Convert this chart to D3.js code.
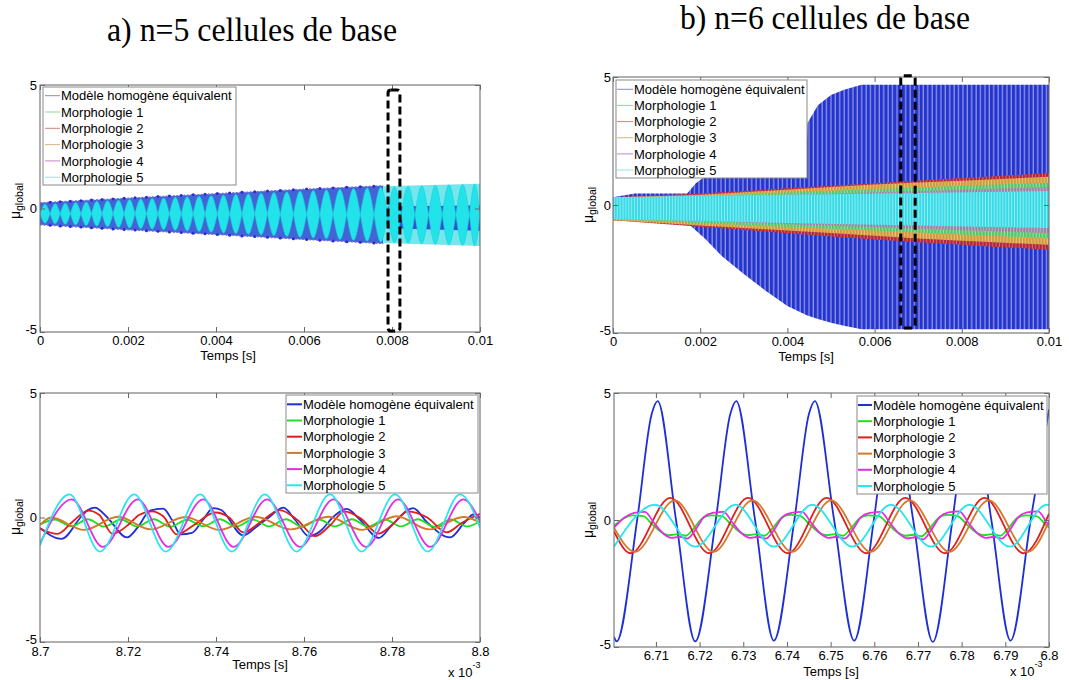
<!DOCTYPE html>
<html><head><meta charset="utf-8">
<script src="https://cdn.jsdelivr.net/npm/d3@7"></script>
<style>
body{margin:0;background:#fff}
svg{display:block}
text{font-family:"Liberation Sans",Arial,sans-serif;fill:#000}
</style>
</head><body>
<svg id="c" width="1069" height="680"></svg>
<script>
// ---------------- DATA ----------------
const titles = ['a) n=5 cellules de base', 'b) n=6 cellules de base'];
const seriesNames = ['Modèle homogène équivalent','Morphologie 1','Morphologie 2','Morphologie 3','Morphologie 4','Morphologie 5'];
const seriesColors = ['#1f2fd6','#22dd22','#dd1f1f','#d4782a','#e22ee2','#28e6ee'];
const legendColorsTop = ['#7d7dc8','#80d890','#c87878','#d0b078','#c078c0','#80e4ec'];
const yTicks = [-5, 0, 5];
const yTickLabels = ['-5','0','5'];
const xTicksTop = [0, 0.002, 0.004, 0.006, 0.008, 0.01];
const xTickLabelsTop = ['0','0.002','0.004','0.006','0.008','0.01'];
const xTicksBotA = [8.70, 8.72, 8.74, 8.76, 8.78, 8.80];
const xTickLabelsBotA = ['8.7','8.72','8.74','8.76','8.78','8.8'];
const xTicksBotB = [6.71, 6.72, 6.73, 6.74, 6.75, 6.76, 6.77, 6.78, 6.79, 6.80];
const xTickLabelsBotB = ['6.71','6.72','6.73','6.74','6.75','6.76','6.77','6.78','6.79','6.8'];
const xLabel = 'Temps [s]';
const exponentLabel = ['x 10', '-3'];

// top-left (n=5) envelopes [t, low, high]
const blueEnvA = [[0,-0.66,0.23],[0.002,-0.86,0.42],[0.004,-1.05,0.6],[0.006,-1.25,0.78],[0.0078,-1.42,0.92]];
const cyanEnvA = [[0,-0.58,0.16],[0.002,-0.78,0.36],[0.004,-0.97,0.53],[0.006,-1.17,0.71],[0.008,-1.38,0.88],[0.01,-1.52,1.0]];
const cyanBandA = [[0.0078,-1.4,0.9],[0.01,-1.52,1.0]];
const blueTailA = [[0.0079,-0.8,0.08],[0.01,-0.9,0.12]];
const beatNodesA = [0,0.00023,0.00046,0.00069,0.00093,0.00117,0.00141,0.00166,0.00191,0.00216,0.00242,0.00268,0.00294,0.00321,0.00348,0.00375,0.00403,0.00431,0.00459,0.00488,0.00517,0.00546,0.00576,0.00606,0.00636,0.00666,0.00697,0.00728,0.00759,0.0079,0.00821,0.00852,0.00883,0.00914,0.00945,0.00976,0.01];
const zoomBoxA = [0.00791, 0.00818, -4.96, 4.8];

// top-right (n=6) envelopes [t, low, high]
const blueEnvB = [[0,-0.6,0.3],[0.0005,-0.62,0.45],[0.0012,-0.62,0.45],[0.0017,-0.68,0.45],[0.0019,-1.0,0.85],[0.0021,-1.3,1.1],[0.0025,-2.0,1.15],[0.003,-2.7,1.15],[0.0035,-3.35,1.2],[0.004,-3.95,1.2],[0.00443,-4.3,1.2],[0.00446,-4.32,3.2],[0.0047,-4.45,3.9],[0.005,-4.6,4.3],[0.0053,-4.72,4.5],[0.0057,-4.85,4.7],[0.01,-4.85,4.7]];
const redEnvB = [[0,-0.6,0.3],[0.002,-0.85,0.45],[0.004,-1.1,0.65],[0.006,-1.35,0.85],[0.008,-1.55,1.05],[0.01,-1.75,1.25]];
const orangeEnvB = [[0,-0.6,0.3],[0.002,-0.8,0.4],[0.004,-1.0,0.6],[0.006,-1.2,0.8],[0.008,-1.4,0.95],[0.01,-1.55,1.1]];
const greenEnvB = [[0,-0.55,0.25],[0.002,-0.7,0.35],[0.004,-0.85,0.5],[0.006,-1.0,0.62],[0.008,-1.15,0.75],[0.01,-1.3,0.88]];
const magentaEnvB = [[0,-0.5,0.2],[0.004,-0.75,0.4],[0.01,-1.1,0.7]];
const cyanEnvB = [[0,-0.55,0.3],[0.004,-0.7,0.4],[0.01,-0.9,0.55]];
const zoomBoxB = [0.0066, 0.00693, -4.8, 5.05];

// bottom-left (n=5, zoom 8.70-8.80 x1e-3 s) [t, value]
const blueA = [[8.7000,-0.42],[8.7049,-0.86],[8.7091,-0.02],[8.7105,0.25],[8.7125,0.4],[8.7152,0.02],[8.7198,-0.8],[8.7222,-0.4],[8.7250,0.28],[8.7280,0.36],[8.7300,-0.1],[8.7320,-0.68],[8.7345,-0.62],[8.7370,-0.1],[8.7394,0.38],[8.7412,0.3],[8.7462,-0.72],[8.7490,-0.4],[8.7520,0.0],[8.7553,0.4],[8.7580,-0.1],[8.7611,-0.75],[8.7640,-0.5],[8.7665,0.0],[8.7697,0.35],[8.7725,-0.05],[8.7770,-0.82],[8.7800,-0.3],[8.7848,0.38],[8.7880,-0.2],[8.7932,-0.8],[8.7965,-0.2],[8.7985,0.12],[8.8000,0.0]];
const greenA = [[8.7000,-0.28],[8.7034,-0.08],[8.7071,-0.36],[8.7109,-0.07],[8.7146,-0.37],[8.7184,-0.08],[8.7221,-0.36],[8.7259,-0.07],[8.7296,-0.37],[8.7334,-0.09],[8.7371,-0.35],[8.7409,-0.07],[8.7446,-0.37],[8.7484,-0.08],[8.7521,-0.36],[8.7559,-0.07],[8.7596,-0.37],[8.7634,-0.08],[8.7671,-0.36],[8.7709,-0.07],[8.7746,-0.37],[8.7784,-0.08],[8.7821,-0.36],[8.7859,-0.07],[8.7896,-0.37],[8.7934,-0.08],[8.7971,-0.36],[8.8000,-0.15]];
const redA = [[8.7000,-0.45],[8.7040,-0.66],[8.7075,-0.15],[8.7110,0.28],[8.7135,0.1],[8.7165,-0.66],[8.7200,-0.3],[8.7225,0.1],[8.7254,0.25],[8.7280,0.05],[8.7311,-0.68],[8.7350,-0.3],[8.7398,0.2],[8.7430,0.0],[8.7462,-0.6],[8.7500,-0.2],[8.7545,0.3],[8.7585,-0.1],[8.7625,-0.75],[8.7660,-0.3],[8.7692,0.25],[8.7730,-0.05],[8.7769,-0.65],[8.7800,-0.3],[8.7836,0.25],[8.7880,0.0],[8.7924,-0.6],[8.7960,-0.2],[8.8000,0.15]];
const orangeA = [[8.7000,-0.3],[8.7025,0.0],[8.7100,-0.5],[8.7177,0.03],[8.7252,-0.48],[8.7330,0.02],[8.7408,-0.5],[8.7490,0.03],[8.7570,-0.48],[8.7655,0.03],[8.7732,-0.5],[8.7810,0.05],[8.7885,-0.48],[8.7962,0.02],[8.8000,-0.2]];
const magentaA = [[8.7000,-1.05],[8.7072,0.73],[8.7143,-1.18],[8.7222,0.73],[8.7292,-1.18],[8.7371,0.73],[8.7440,-1.18],[8.7516,0.73],[8.7591,-1.18],[8.7667,0.73],[8.7741,-1.18],[8.7814,0.73],[8.7887,-1.18],[8.7962,0.73],[8.8000,-0.15]];
const cyanA = [[8.7000,-1.12],[8.7067,0.93],[8.7136,-1.37],[8.7214,0.93],[8.7286,-1.37],[8.7364,0.93],[8.7436,-1.37],[8.7511,0.93],[8.7583,-1.37],[8.7659,0.93],[8.7731,-1.37],[8.7807,0.93],[8.7881,-1.37],[8.7955,0.93],[8.8000,-0.4]];

// bottom-right (n=6, zoom 6.70-6.80 x1e-3 s) [t, value]
const blueB = [[6.7004,-4.6],[6.7010,-4.78],[6.7057,0.0],[6.7090,4.15],[6.7104,4.68],[6.7146,0.0],[6.7190,-4.78],[6.7237,0.0],[6.7270,4.15],[6.7284,4.68],[6.7327,0.0],[6.7370,-4.75],[6.7417,0.0],[6.7450,4.15],[6.7464,4.68],[6.7508,0.0],[6.7554,-4.75],[6.7599,0.0],[6.7632,4.15],[6.7644,4.68],[6.7689,0.0],[6.7734,-4.8],[6.7779,0.0],[6.7812,4.15],[6.7824,4.68],[6.7868,0.0],[6.7912,-4.75],[6.7958,0.0],[6.8000,4.35]];
const greenB = [[6.7004,-0.22],[6.7026,0.06],[6.7046,0.18],[6.7071,0.15],[6.7091,-0.16],[6.7114,-0.5],[6.7131,-0.6],[6.7150,-0.56],[6.7168,-0.62],[6.7188,-0.3],[6.7206,0.06],[6.7226,0.18],[6.7251,0.15],[6.7271,-0.16],[6.7294,-0.5],[6.7311,-0.6],[6.7330,-0.56],[6.7348,-0.62],[6.7368,-0.3],[6.7386,0.06],[6.7406,0.2],[6.7431,0.15],[6.7451,-0.16],[6.7474,-0.5],[6.7491,-0.6],[6.7510,-0.56],[6.7528,-0.62],[6.7548,-0.3],[6.7566,0.06],[6.7586,0.18],[6.7611,0.15],[6.7631,-0.16],[6.7654,-0.5],[6.7671,-0.62],[6.7690,-0.58],[6.7708,-0.64],[6.7728,-0.3],[6.7746,0.06],[6.7766,0.2],[6.7791,0.15],[6.7811,-0.16],[6.7834,-0.5],[6.7851,-0.6],[6.7870,-0.56],[6.7888,-0.62],[6.7908,-0.3],[6.7926,0.06],[6.7946,0.18],[6.7971,0.15],[6.7991,-0.16],[6.8000,-0.3]];
const redB = [[6.7004,-0.45],[6.7042,-1.31],[6.7133,0.87],[6.7222,-1.31],[6.7311,0.87],[6.7402,-1.31],[6.7491,0.87],[6.7582,-1.31],[6.7671,0.87],[6.7762,-1.31],[6.7852,0.87],[6.7942,-1.31],[6.8000,0.25]];
const orangeB = [[6.7004,-0.3],[6.7052,-1.25],[6.7143,0.77],[6.7232,-1.25],[6.7321,0.77],[6.7412,-1.25],[6.7501,0.77],[6.7592,-1.25],[6.7681,0.77],[6.7772,-1.25],[6.7862,0.77],[6.7952,-1.25],[6.8000,-0.05]];
const magentaB = [[6.7004,-0.3],[6.7030,0.12],[6.7050,0.28],[6.7075,0.32],[6.7095,-0.1],[6.7118,-0.55],[6.7135,-0.7],[6.7155,-0.66],[6.7172,-0.73],[6.7192,-0.35],[6.7210,0.12],[6.7230,0.28],[6.7255,0.32],[6.7275,-0.1],[6.7298,-0.55],[6.7315,-0.7],[6.7334,-0.66],[6.7352,-0.73],[6.7372,-0.35],[6.7390,0.12],[6.7410,0.28],[6.7435,0.32],[6.7455,-0.1],[6.7478,-0.55],[6.7495,-0.7],[6.7514,-0.66],[6.7532,-0.73],[6.7552,-0.35],[6.7570,0.12],[6.7590,0.28],[6.7615,0.32],[6.7635,-0.1],[6.7658,-0.55],[6.7675,-0.72],[6.7694,-0.68],[6.7712,-0.76],[6.7732,-0.35],[6.7750,0.12],[6.7770,0.3],[6.7795,0.34],[6.7815,-0.1],[6.7838,-0.55],[6.7855,-0.7],[6.7874,-0.66],[6.7892,-0.73],[6.7912,-0.35],[6.7930,0.12],[6.7950,0.3],[6.7975,0.34],[6.7995,-0.1],[6.8000,-0.2]];
const cyanB = [[6.7004,-1.05],[6.7098,0.6],[6.7190,-1.05],[6.7282,0.6],[6.7370,-1.05],[6.7458,0.6],[6.7550,-1.05],[6.7638,0.6],[6.7730,-1.05],[6.7818,0.6],[6.7910,-1.05],[6.7995,0.6],[6.8000,0.59]];

// ---------------- DRAWING ----------------
const svg = d3.select('#c');
const defs = svg.append('defs');
let clipN = 0;

function makePanel(box, xDomain) {
  const x = d3.scaleLinear().domain(xDomain).range([box.l, box.r]);
  const y = d3.scaleLinear().domain([-5, 5]).range([box.b, box.t]);
  const id = 'clip' + (clipN++);
  defs.append('clipPath').attr('id', id).append('rect')
    .attr('x', box.l).attr('y', box.t).attr('width', box.r - box.l).attr('height', box.b - box.t);
  const g = svg.append('g');
  const plot = g.append('g').attr('clip-path', `url(#${id})`);
  return {x, y, g, plot, box};
}

function drawAxes(p, xt, xl, xPad, yPad) {
  const fx = d => xl[xt.indexOf(d)];
  const fy = d => yTickLabels[yTicks.indexOf(d)];
  const style = sel => {
    sel.select('.domain').remove();
    sel.selectAll('.tick line').attr('stroke', '#666');
    sel.selectAll('.tick text').attr('font-size', 13).attr('font-family', '"Liberation Sans",Arial,sans-serif');
  };
  p.g.append('g').attr('transform', `translate(0,${p.box.b})`)
    .call(d3.axisBottom(p.x).tickValues(xt).tickFormat(fx).tickSizeInner(-5).tickSizeOuter(0).tickPadding(xPad)).call(style);
  p.g.append('g').attr('transform', `translate(0,${p.box.t})`)
    .call(d3.axisTop(p.x).tickValues(xt).tickFormat('').tickSizeInner(-5).tickSizeOuter(0)).call(style);
  const ya = p.g.append('g').attr('transform', `translate(${p.box.l},0)`)
    .call(d3.axisLeft(p.y).tickValues(yTicks).tickFormat(fy).tickSizeInner(-5).tickSizeOuter(0).tickPadding(yPad)).call(style);
  ya.selectAll('.tick text').filter(d => d === -5).attr('dy', '0.1em');
  p.g.append('g').attr('transform', `translate(${p.box.r},0)`)
    .call(d3.axisRight(p.y).tickValues(yTicks).tickFormat('').tickSizeInner(-5).tickSizeOuter(0)).call(style);
  p.g.append('rect').attr('x', p.box.l).attr('y', p.box.t)
    .attr('width', p.box.r - p.box.l).attr('height', p.box.b - p.box.t)
    .attr('fill', 'none').attr('stroke', '#6e6e6e').attr('stroke-width', 1.1);
}

function yLabel(x, yc) {
  const t = svg.append('text').attr('transform', `translate(${x},${yc}) rotate(-90)`)
    .attr('text-anchor', 'middle').attr('font-size', 14);
  t.append('tspan').text('μ');
  t.append('tspan').attr('font-size', 10.5).attr('dy', 3).text('global');
}

function legend(bx, names, colors, lw, op) {
  const g = svg.append('g');
  g.append('rect').attr('x', bx.l).attr('y', bx.t).attr('width', bx.r - bx.l).attr('height', bx.b - bx.t)
    .attr('fill', '#fff').attr('stroke', '#8a8a8a').attr('stroke-width', 1);
  names.forEach((n, i) => {
    const yc = bx.row0 + i * bx.dy;
    g.append('line').attr('x1', bx.l1).attr('x2', bx.l2).attr('y1', yc).attr('y2', yc)
      .attr('stroke', colors[i]).attr('stroke-width', lw).attr('opacity', op);
    g.append('text').attr('x', bx.tx).attr('y', yc + 4.6).attr('font-size', 13).text(n);
  });
}

function stripePattern(id, base, stripe, w, sw) {
  const pt = defs.append('pattern').attr('id', id).attr('patternUnits', 'userSpaceOnUse')
    .attr('width', w).attr('height', 10);
  pt.append('rect').attr('width', w).attr('height', 10).attr('fill', base);
  pt.append('rect').attr('x', w - sw).attr('width', sw).attr('height', 10).attr('fill', stripe);
}
stripePattern('stBlue', '#2434d2', '#8f95da', 4.4, 1.3);
stripePattern('stRed', '#b3263a', '#d86a70', 3.3, 1.0);
stripePattern('stOrange', '#d29a3e', '#e8c27a', 3.1, 1.0);
stripePattern('stGreen', '#56c66c', '#9ae0a4', 3.2, 1.0);
stripePattern('stMagenta', '#c256c4', '#e09ae0', 3.0, 1.0);
stripePattern('stCyan', '#38d9e6', '#8beef2', 2.9, 1.0);

function band(p, env, fill, curve) {
  const a = d3.area().x(d => p.x(d[0])).y0(d => p.y(d[1])).y1(d => p.y(d[2])).curve(curve || d3.curveLinear);
  return p.plot.append('path').attr('d', a(env)).attr('fill', fill);
}

function zoomRect(p, zb) {
  p.g.append('rect').attr('x', p.x(zb[0])).attr('y', p.y(zb[3]))
    .attr('width', p.x(zb[1]) - p.x(zb[0])).attr('height', p.y(zb[2]) - p.y(zb[3]))
    .attr('rx', 3).attr('fill', 'none').attr('stroke', '#000').attr('stroke-width', 3)
    .attr('stroke-dasharray', '8,4');
}

function title(txt, xc, yb) {
  svg.append('text').attr('x', xc).attr('y', yb).attr('text-anchor', 'middle')
    .style('font-family', '"Liberation Serif","Times New Roman",serif').attr('font-size', 34)
    .attr('textLength', 290).attr('lengthAdjust', 'spacingAndGlyphs').text(txt);
}
title(titles[0], 252, 41);
title(titles[1], 825, 29);

// ---- Panel A top
const pAt = makePanel({l: 40, r: 480, t: 85, b: 332}, [0, 0.01]);
{
  const p = pAt;
  band(p, blueEnvA, '#4264d6');
  band(p, cyanBandA, '#74e6ec');
  band(p, blueTailA, '#3550d0');
  const hi = d3.scaleLinear().domain(cyanEnvA.map(d => d[0])).range(cyanEnvA.map(d => d[2]));
  const lo = d3.scaleLinear().domain(cyanEnvA.map(d => d[0])).range(cyanEnvA.map(d => d[1]));
  const lens = d3.area().x(d => p.x(d[0])).y0(d => p.y(d[1])).y1(d => p.y(d[2])).curve(d3.curveMonotoneX);
  d3.pairs(beatNodesA).forEach(([a, b]) => {
    const m = (a + b) / 2, ca = (hi(a) + lo(a)) / 2, cb = (hi(b) + lo(b)) / 2;
    p.plot.append('path').attr('d', lens([[a, ca, ca], [m, lo(m), hi(m)], [b, cb, cb]]))
      .attr('fill', '#22e2ea').attr('stroke', '#1ccfd8').attr('stroke-width', 0.6);
  });
  const upper = d3.line().x(d => p.x(d[0])).y(d => p.y(d[2]));
  const lower = d3.line().x(d => p.x(d[0])).y(d => p.y(d[1]));
  p.plot.append('path').attr('d', upper(blueEnvA)).attr('fill', 'none').attr('stroke', '#7a72cc').attr('stroke-width', 1.3).attr('stroke-dasharray', '2,1.5');
  p.plot.append('path').attr('d', lower(blueEnvA)).attr('fill', 'none').attr('stroke', '#7a72cc').attr('stroke-width', 1.3).attr('stroke-dasharray', '2,1.5');
  const bhi = d3.scaleLinear().domain(blueEnvA.map(d => d[0])).range(blueEnvA.map(d => d[2]));
  const blo = d3.scaleLinear().domain(blueEnvA.map(d => d[0])).range(blueEnvA.map(d => d[1]));
  beatNodesA.filter(t => t > 0 && t <= 0.0078).forEach(t => {
    p.plot.append('circle').attr('cx', p.x(t)).attr('cy', p.y(bhi(t))).attr('r', 1.5).attr('fill', '#2a2ad8');
    p.plot.append('circle').attr('cx', p.x(t)).attr('cy', p.y(blo(t))).attr('r', 1.5).attr('fill', '#2a2ad8');
  });
  drawAxes(p, xTicksTop, xTickLabelsTop, 4, 3);
  legend({l: 43, r: 236, t: 87, b: 185, row0: 95.7, dy: 16.3, l1: 45, l2: 60, tx: 61}, seriesNames, legendColorsTop, 1, 0.9);
  zoomRect(p, zoomBoxA);
  svg.append('text').attr('x', 228).attr('y', 360).attr('text-anchor', 'middle').attr('font-size', 13).text(xLabel);
  yLabel(20, 201);
}

// ---- Panel B top
const pBt = makePanel({l: 613, r: 1049, t: 77, b: 333}, [0, 0.01]);
{
  const p = pBt;
  band(p, blueEnvB, 'url(#stBlue)');
  band(p, redEnvB, 'url(#stRed)', d3.curveMonotoneX);
  band(p, orangeEnvB, 'url(#stOrange)', d3.curveMonotoneX);
  band(p, greenEnvB, 'url(#stGreen)', d3.curveMonotoneX);
  band(p, magentaEnvB, 'url(#stMagenta)', d3.curveMonotoneX).attr('opacity', 0.6);
  band(p, cyanEnvB, 'url(#stCyan)', d3.curveMonotoneX);
  drawAxes(p, xTicksTop, xTickLabelsTop, 4, 2);
  legend({l: 616, r: 807, t: 80, b: 178, row0: 89.3, dy: 16.15, l1: 617, l2: 633, tx: 634}, seriesNames, legendColorsTop, 1, 0.9);
  zoomRect(p, zoomBoxB);
  svg.append('text').attr('x', 806).attr('y', 361).attr('text-anchor', 'middle').attr('font-size', 13).text(xLabel);
  yLabel(593, 205);
}

// ---- Panel A bottom
const pAb = makePanel({l: 40, r: 480, t: 393, b: 642}, [8.70, 8.80]);
{
  const p = pAb;
  const ln = d3.line().x(d => p.x(d[0])).y(d => p.y(d[1])).curve(d3.curveMonotoneX);
  [blueA, greenA, redA, orangeA, magentaA, cyanA].forEach((s, i) => {
    p.plot.append('path').attr('d', ln(s)).attr('fill', 'none').attr('stroke', seriesColors[i]).attr('stroke-width', 1.8);
  });
  drawAxes(p, xTicksBotA, xTickLabelsBotA, 5, 3);
  legend({l: 286, r: 478, t: 395, b: 493, row0: 404.3, dy: 16.2, l1: 287, l2: 302, tx: 303}, seriesNames, seriesColors, 2, 1);
  svg.append('text').attr('x', 260).attr('y', 669).attr('text-anchor', 'middle').attr('font-size', 13).text(xLabel);
  const e = svg.append('text').attr('x', 448).attr('y', 677).attr('font-size', 13);
  e.append('tspan').text(exponentLabel[0]);
  e.append('tspan').attr('font-size', 9).attr('dy', -9).text(exponentLabel[1]);
  yLabel(20, 517);
}

// ---- Panel B bottom
const pBb = makePanel({l: 614, r: 1049, t: 393, b: 647}, [6.7004, 6.80]);
{
  const p = pBb;
  const ln = d3.line().x(d => p.x(d[0])).y(d => p.y(d[1])).curve(d3.curveMonotoneX);
  [blueB, greenB, redB, orangeB, magentaB, cyanB].forEach((s, i) => {
    p.plot.append('path').attr('d', ln(s)).attr('fill', 'none').attr('stroke', seriesColors[i]).attr('stroke-width', 1.8);
  });
  drawAxes(p, xTicksBotB, xTickLabelsBotB, 4, 3);
  legend({l: 857, r: 1047, t: 396, b: 494, row0: 405, dy: 16.2, l1: 858, l2: 872, tx: 873}, seriesNames, seriesColors, 2, 1);
  svg.append('text').attr('x', 831).attr('y', 676).attr('text-anchor', 'middle').attr('font-size', 13).text(xLabel);
  const e = svg.append('text').attr('x', 1010).attr('y', 676).attr('font-size', 13);
  e.append('tspan').text(exponentLabel[0]);
  e.append('tspan').attr('font-size', 9).attr('dy', -9).text(exponentLabel[1]);
  yLabel(593, 520);
}
</script>
</body></html>
